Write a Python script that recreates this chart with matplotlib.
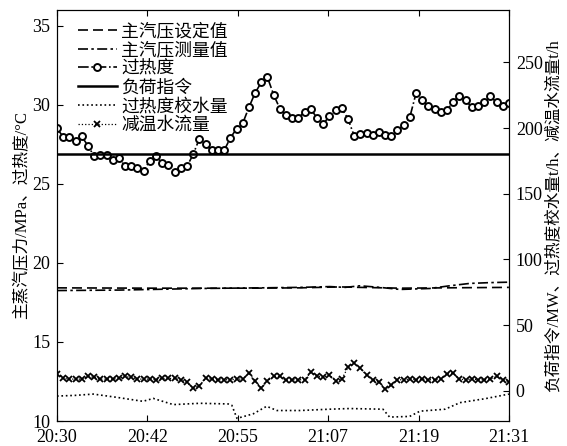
import numpy as np
import matplotlib.pyplot as plt

plt.rcParams['font.family'] = ['Liberation Serif', 'Noto Sans CJK SC', 'DejaVu Sans']
plt.rcParams['font.size'] = 12
plt.rcParams['axes.unicode_minus'] = False

# 采样时间 (min, 从 20:30 开始), 过热度/减温水流量 每个采样点一个值
n_pts = 74
t_sample = np.arange(n_pts) * 61.0 / (n_pts - 1)

superheat = [28.5, 27.97, 27.95, 27.7, 28.0, 27.4, 26.75, 26.8, 26.84, 26.5,
             26.65, 26.1, 26.15, 25.97, 25.82, 26.47, 26.75, 26.3, 26.18, 25.74,
             25.97, 26.1, 26.86, 27.85, 27.49, 27.11, 27.15, 27.11, 27.89, 28.48,
             28.82, 29.83, 30.74, 31.41, 31.73, 30.63, 29.75, 29.32, 29.18, 29.18,
             29.54, 29.73, 29.16, 28.75, 29.3, 29.66, 29.77, 29.11, 28.04, 28.16,
             28.23, 28.08, 28.25, 28.1, 28.02, 28.4, 28.69, 29.22, 30.72, 30.32,
             29.89, 29.7, 29.51, 29.66, 30.19, 30.55, 30.3, 29.83, 29.92, 30.15,
             30.53, 30.15, 29.89, 30.09]

desuper_flow = [12.7, 9.4, 8.9, 8.9, 8.9, 10.9, 10.2, 8.9, 8.9, 8.9,
                9.4, 10.9, 10.2, 8.9, 8.9, 8.9, 8.4, 9.4, 9.4, 9.4,
                8.4, 6.4, 1.9, 4.0, 9.4, 8.9, 8.4, 8.4, 8.4, 8.9,
                8.9, 13.5, 7.6, 2.1, 7.6, 10.9, 10.9, 7.9, 8.4, 8.4,
                8.4, 14.0, 11.5, 10.2, 12.0, 7.6, 8.9, 17.8, 21.0, 17.1,
                12.0, 8.4, 6.9, 1.3, 4.3, 8.4, 8.4, 8.9, 8.4, 8.9,
                8.4, 8.4, 8.9, 12.7, 13.5, 8.9, 8.4, 8.9, 8.4, 8.4,
                8.9, 10.9, 8.4, 6.9]

# 过热度校水量
t_corr = [0, 2.4, 4.9, 8.1, 11.6, 13.0, 15.7, 19.3, 23.1, 23.6, 24.3, 26.5, 28.3,
          29.7, 32.8, 36.8, 39.5, 44.0, 44.9, 47.6, 49.0, 52.4, 54.4, 57.8, 61.0]
corr_water = [-4.0, -3.5, -2.5, -5.0, -8.0, -5.8, -10.5, -9.5, -10.0, -11.0, -21.0,
              -17.5, -11.8, -15.0, -15.0, -14.0, -13.5, -14.0, -20.0, -19.5, -15.5,
              -14.0, -9.0, -6.0, -2.5]

# 主汽压
t_set = [0, 12.55, 26.05, 32.8, 38.2, 40.9, 46.3, 61.0]
p_set = [18.42, 18.40, 18.40, 18.42, 18.48, 18.45, 18.40, 18.45]
t_meas = [0, 8.5, 19.3, 27.4, 32.8, 36.85, 38.9, 40.9, 43.6, 46.3, 50.3, 53.0, 55.7, 58.4, 61.0]
p_meas = [18.25, 18.28, 18.38, 18.42, 18.45, 18.5, 18.45, 18.55, 18.45, 18.32, 18.38,
          18.55, 18.7, 18.75, 18.78]

# 负荷指令 (MW)
t_load = [0, 61.0]
load_cmd = [180, 180]

tick_pos = [0, 12.2, 24.4, 36.6, 48.8, 61.0]
tick_lab = ['20:30', '20:42', '20:55', '21:07', '21:19', '21:31']

fig = plt.figure(figsize=(5.67, 4.46), dpi=100)
ax = fig.add_axes([0.1005, 0.056, 0.797, 0.922])
ax2 = ax.twinx()

l1, = ax.plot(t_set, p_set, color='k', ls=(0, (6, 3)), lw=1.2, label='主汽压设定值')
l2, = ax.plot(t_meas, p_meas, color='k', ls=(0, (6, 2, 1.5, 2)), lw=1.2, label='主汽压测量值')
l3, = ax.plot(t_sample, superheat, color='k', ls='-.', lw=1.2, marker='o', ms=5,
              mfc='white', mec='k', mew=1.4, label='过热度')
l4, = ax2.plot(t_load, load_cmd, color='k', lw=1.8, label='负荷指令')
l5, = ax2.plot(t_corr, corr_water, color='k', ls=':', lw=1.2, label='过热度校水量')
l6, = ax2.plot(t_sample, desuper_flow, color='k', ls=':', lw=0.9, marker='x', ms=4.5,
               mew=1.3, label='减温水流量')

ax.set_xlim(0, 61)
ax.set_ylim(10, 36)
ax2.set_ylim(-23, 290)
ax.set_xticks(tick_pos)
ax.set_xticklabels(tick_lab)
ax.set_yticks([10, 15, 20, 25, 30, 35])
ax2.set_yticks([0, 50, 100, 150, 200, 250])

ax.tick_params(axis='x', direction='in', top=True, length=4, pad=6, labelsize=13)
ax.tick_params(axis='y', direction='in', length=4, pad=5, labelsize=13)
ax2.tick_params(axis='y', direction='in', length=4, pad=5, labelsize=13)

ax.set_ylabel('主蒸汽压力/MPa、过热度/°C', labelpad=1)
ax2.set_ylabel('负荷指令/MW、过热度校水量t/h、减温水流量t/h', labelpad=2)

ax2.legend(handles=[l1, l2, l3, l4, l5, l6], loc='upper left', frameon=False,
           prop={'size': 12.8}, handlelength=2.2, handletextpad=0.25,
           labelspacing=0.1, borderaxespad=0.3, bbox_to_anchor=(0.018, 0.998))

fig.savefig('out.png', dpi=100)
